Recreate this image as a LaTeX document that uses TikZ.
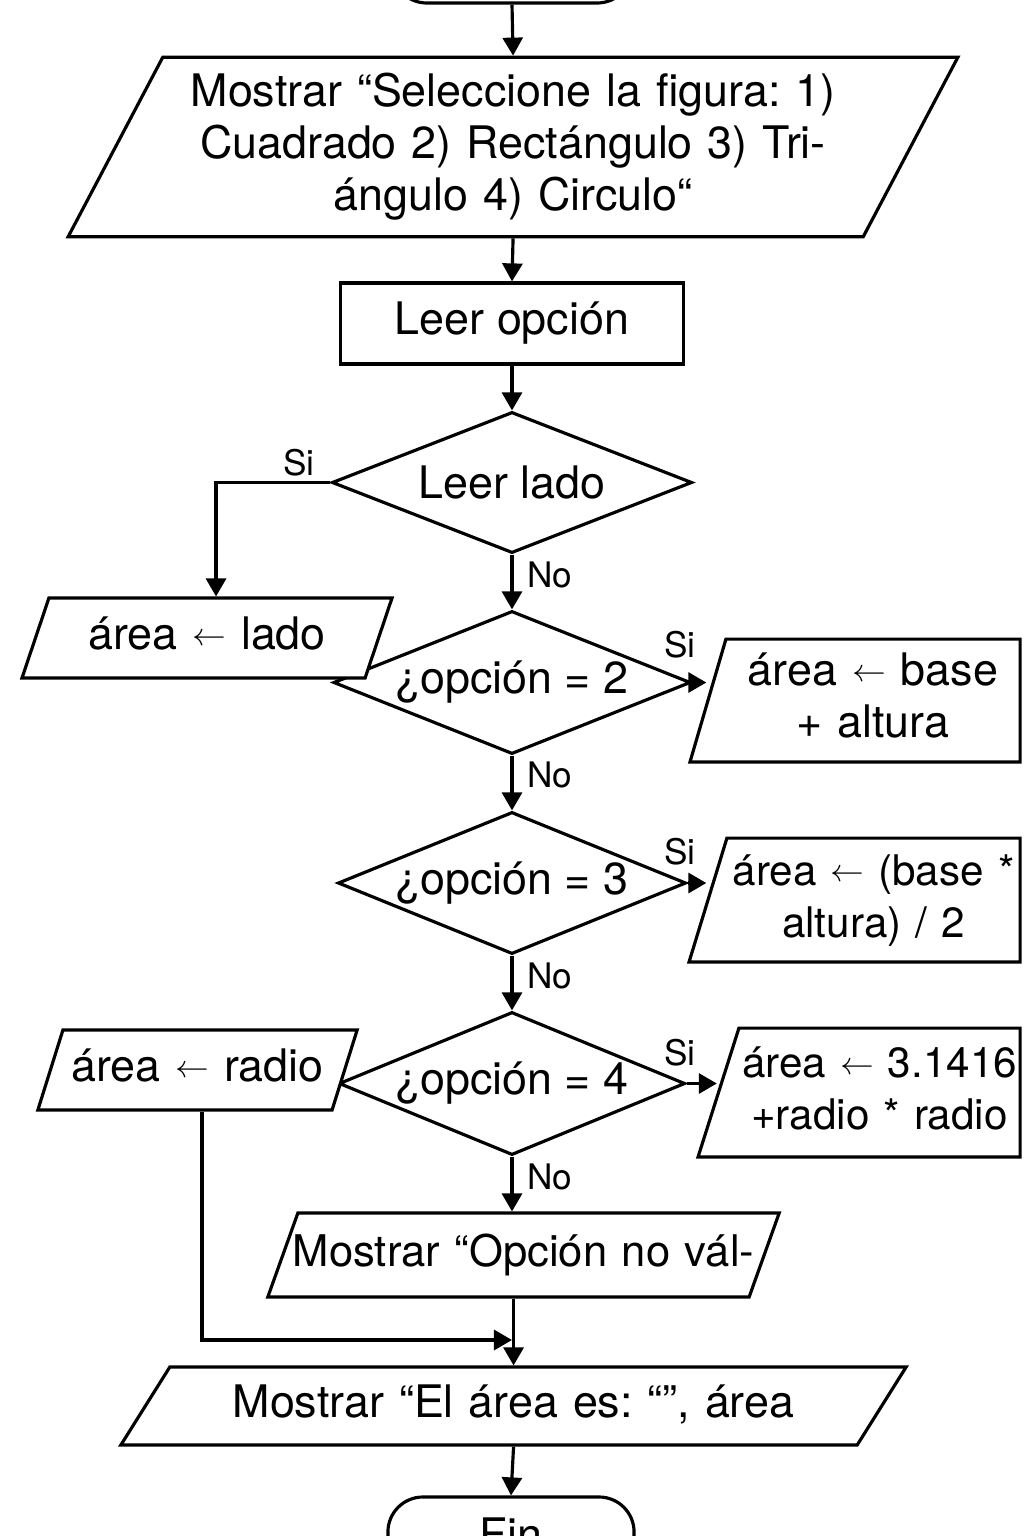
\documentclass[tikz,border=0pt]{standalone}
\usepackage{fontspec}
\setmainfont{TeX Gyre Heros}
\usetikzlibrary{shapes.geometric,arrows.meta}
\newcommand{\asig}{\raisebox{0.09em}{\scalebox{0.8}[0.75]{$\leftarrow$}}}
\newcommand{\row}[1]{\makebox[\hsize]{#1}}
\frenchspacing

\begin{document}
\begin{tikzpicture}[x=0.01cm,y=-0.01cm,line width=0.9pt,
  font=\fontsize{12.75}{14.8}\selectfont,
  arr/.style={-{Triangle[length=0.18cm,width=0.2cm]}},
  box/.style={draw,fill=white,inner sep=0pt},
  io/.style={box,trapezium,align=center,text height=9.5pt,text depth=3pt},
  two/.style={text depth=17.8pt},
  three/.style={text depth=32.6pt},
  small/.style={font=\fontsize{12}{14.8}\selectfont},
  cond/.style={box,diamond,aspect=2.5},
  term/.style={box,rounded corners=0.35cm,minimum width=2.4cm,minimum height=0.74cm},
  lbl/.style={font=\fontsize{10}{12}\selectfont,inner sep=0pt}]
\useasboundingbox (0,0) rectangle (1024,1536);

\node[term] at (512,-34) (start){Inicio};
\node[io,three,trapezium left angle=62.2,trapezium right angle=117.8,text width=7cm,inner ysep=0.1575cm] at (513,147) (sel){\row{Mostrar “Seleccione la figura: 1)}\\\row{Cuadrado 2) Rectángulo 3) Tri-}\\\row{ángulo 4) Circulo“}};
\node[box,minimum width=3.42cm,minimum height=0.81cm] at (512,323.5) (opc){Leer opción};
\node[cond,minimum width=3.6cm,minimum height=1.41cm] at (512,482.5) (d1){Leer lado};
\node[cond,minimum width=3.57cm,minimum height=1.43cm] at (512,682.5) (d2){¿opción = 2};
\node[io,trapezium left angle=71.4,trapezium right angle=108.6,text width=3.16cm,inner ysep=0.18cm] at (207,638) (lado){\row{área \asig{} lado}};
\node[io,two,trapezium left angle=73.7,trapezium right angle=90,text width=2.94cm,inner ysep=0.134cm] at (873,700.5) (r1){\row{área \asig{} base}\\\row{+ altura}};
\node[cond,minimum width=3.48cm,minimum height=1.42cm] at (512,883) (d3){¿opción = 3};
\node[io,two,small,trapezium left angle=73,trapezium right angle=90,text width=2.93cm,inner ysep=0.139cm] at (873.5,900) (r2){\row{área \asig{} (base *}\\\row{altura) / 2}};
\node[cond,minimum width=3.46cm,minimum height=1.43cm] at (512,1083.5) (d4){¿opción = 4};
\node[io,trapezium left angle=72.6,trapezium right angle=107.4,text width=2.69cm,inner ysep=0.18cm] at (197.5,1070) (radio){\row{área \asig{} radio}};
\node[io,two,small,trapezium left angle=72.4,trapezium right angle=90,text width=2.81cm,inner ysep=0.164cm] at (879.5,1092.5) (r3){\row{área \asig{} 3.1416}\\\row{+radio * radio}};
\node[io,font=\fontsize{12.4}{14.8}\selectfont,trapezium left angle=70.3,trapezium right angle=109.7,text width=4.51cm,inner ysep=0.2cm] at (523.5,1255) (inval){\row{Mostrar “Opción no vál-}};
\node[io,trapezium left angle=57.9,trapezium right angle=122.1,text width=6.87cm,inner ysep=0.17cm] at (513.5,1406) (final){\row{Mostrar “El área es: “”, área}};
\node[term,minimum width=2.46cm] at (511,1534) (fin){Fin};
\coordinate (mrg) at (512,1340);

\node[lbl] at (299,463) (si1){Si};
\node[lbl] at (550,575) (no1){No};
\node[lbl] at (680,645) (si2){Si};
\node[lbl] at (550,775) (no2){No};
\node[lbl] at (680,852) (si3){Si};
\node[lbl] at (550,976) (no3){No};
\node[lbl] at (680,1053) (si4){Si};
\node[lbl] at (550,1177) (no4){No};

\draw[arr] (start.south)--(sel.north);
\draw[arr] (sel.south)--(opc.north);
\draw[arr] (opc.south)--(d1.north);
\draw[arr] (d1.west)-|([xshift=0.09cm]lado.north);
\draw[arr] (d1.south)--(d2.north);
\draw[arr] (d2.east)--(r1.west |- d2.east);
\draw[arr] (d2.south)--(d3.north);
\draw[arr] (d3.east)--(r2.west |- d3.east);
\draw[arr] (d3.south)--(d4.north);
\draw[arr] (d4.east)--(r3.west |- d4.east);
\draw[arr] (d4.south)--(d4.south |- inval.north);
\draw[arr] ([xshift=0.045cm]radio.south)|-(mrg);
\draw[arr] (inval.south -| final.north)--(final.north);
\draw[arr] (final.south)--(fin.north);
\end{tikzpicture}
\end{document}
